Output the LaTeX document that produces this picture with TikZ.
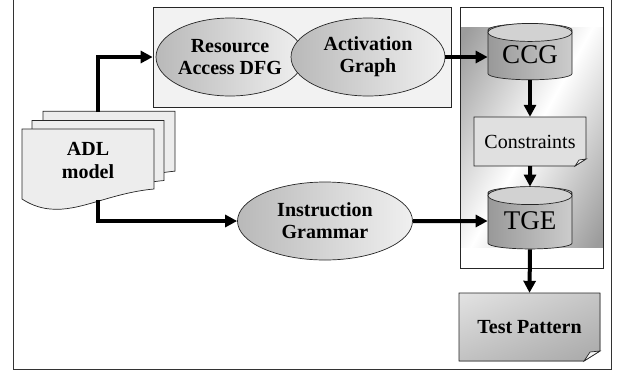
\documentclass[tikz,border=0pt]{standalone}
\usepackage{fontspec}
\setmainfont{Liberation Serif}
\usetikzlibrary{shapes.geometric,arrows.meta,shadings}

\begin{document}
\begin{tikzpicture}[x=1pt,y=-1pt,
	font=\fontsize{20}{22}\selectfont,
	edge/.style={draw=black!85,line width=0.7pt},
	oval/.style={ellipse,edge,left color=gray!55,right color=gray!12,inner sep=0pt,minimum height=78pt,font=\fontsize{20}{22}\selectfont\bfseries,align=center},
	drum/.style={cylinder,shape border rotate=90,aspect=0.22,edge,left color=gray!80,right color=gray!40,minimum width=84pt,inner sep=0pt,font=\fontsize{27}{30}\selectfont},
	flow/.style={line width=4pt,-{Triangle[length=12pt,width=12pt]}}]
		\useasboundingbox (0,0) rectangle (624,373);
		\draw[line width=0.8pt,black!80] (13,-5) rectangle (611,369);
		% tools box
		\node[edge,fill=gray!10,minimum width=298pt,minimum height=100pt] (tools) at (302,57) {};
		\node[oval,minimum width=148pt] (rdfg) at (230,57) {Resource\\Access DFG};
		\node[oval,minimum width=154pt] (actg) at (368,57) {Activation\\Graph};
		\node[oval,minimum width=175pt] (igram) at (325,221) {Instruction\\Grammar};
		% ADL documents
		\foreach \d in {21,10,0}{
			\filldraw[edge,fill=gray!14,shift={(\d,-0.85*\d)}] (22,129) -- (154,129) -- (154,189)
				.. controls (110,193) and (80,212) .. (50,209)
				.. controls (38,208) and (28,203) .. (22,199) -- cycle;
		}
		\node[font=\fontsize{20}{23}\selectfont\bfseries,align=center] (adl) at (88,160) {ADL\\model};
		\coordinate (adltop) at (98,112);
		\coordinate (adlbot) at (98,200);
		% generator panel
		\begin{scope}
			\clip (460,7) rectangle (603,268);
			\shade[top color=gray!78,bottom color=gray!78,middle color=white,shading angle=61]
				(531.5,137.5) +(-110,-110) rectangle +(110,110);
		\end{scope}
		\draw[edge] (460,7) rectangle (603,268);
		\node[drum,minimum height=56pt] (ccg) at (530,55) {CCG};
		\filldraw[edge,fill=gray!35] ([yshift=-9pt]ccg.north) ellipse (42pt and 9pt);
		\filldraw[edge,fill=gray!24] (474,117) -- (586,117) -- (586,159) -- (575,166) -- (474,166) -- cycle;
		\filldraw[edge,fill=gray!8] (575,166) -- (579,160) -- (586,159) -- cycle;
		\node[minimum width=112pt,minimum height=49pt,inner sep=0pt] (cons) at (530,141.5) {Constraints};
		\node[drum,minimum height=62pt] (tge) at (530,221) {TGE};
		\filldraw[edge,fill=gray!35] ([yshift=-9pt]tge.north) ellipse (42pt and 9pt);
		% output
		\filldraw[edge,upper left=gray!22,upper right=gray!45,lower left=gray!48,lower right=gray!68] (459,293) -- (600,293) -- (600,351) -- (584,361) -- (459,361) -- cycle;
		\filldraw[edge,fill=gray!8] (584,361) -- (590,352) -- (600,351) -- cycle;
		\node[font=\fontsize{20}{22}\selectfont\bfseries,minimum width=141pt,minimum height=68pt,inner sep=0pt] (tpat) at (529.5,327) {Test Pattern};
		% arrows
		\draw[flow] (adltop) |- (tools.west);
		\draw[flow] (adlbot) |- (igram.west);
		\draw[flow] (actg.east) -- (actg.east -| ccg.west);
		\draw[flow] (igram.east) -- (tge.west);
		\draw[flow] (ccg.south) -- (cons.north);
		\draw[flow] (cons.south) -- (tge.north);
		\draw[flow] (tge.south) -- (tpat.north);
\end{tikzpicture}
\end{document}
